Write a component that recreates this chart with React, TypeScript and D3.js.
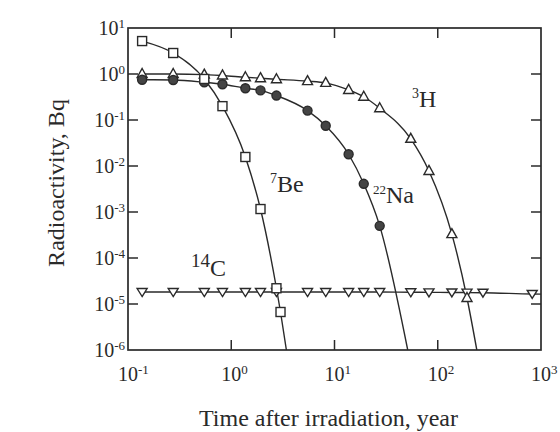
import React, { useEffect, useRef } from 'react';
import * as d3 from 'd3';

// sampling times (years)
const times = [0.137, 0.274, 0.548, 0.822, 1.37, 1.92, 2.74, 5.48, 8.22, 13.7, 19.2, 27.4, 54.8, 82.2, 137, 192, 274, 822];

const be7Times = [0.137, 0.274, 0.548, 0.822, 1.37, 1.92, 2.74, 3.0];
const be7Values = [5.2, 2.86, 0.78, 0.2, 0.0157, 1.16e-3, 2.2e-5, 6.7e-6];
const be7Tail = { t: 3.42, a: 1e-6 };

const na22Values = [0.75, 0.74, 0.66, 0.6, 0.49, 0.44, 0.34, 0.16, 0.075, 0.018, 4.1e-3, 5.0e-4];
const na22Tail = { t: 51.2, a: 1e-6 };

const h3Values = [1.0, 1.0, 0.97, 0.93, 0.85, 0.81, 0.77, 0.7, 0.64, 0.45, 0.32, 0.18, 0.039, 7.8e-3, 3.3e-4, 1.35e-5];
const h3Tail = { t: 239, a: 1e-6 };

const c14Values = [1.82e-5, 1.82e-5, 1.82e-5, 1.82e-5, 1.82e-5, 1.82e-5, 1.82e-5, 1.82e-5, 1.82e-5, 1.82e-5, 1.82e-5, 1.82e-5, 1.8e-5, 1.79e-5, 1.78e-5, 1.77e-5, 1.76e-5, 1.65e-5];
const c14Tail = { t: 1000, a: 1.64e-5 };

const xTickExps = [-1, 0, 1, 2, 3];
const yTickExps = [-6, -5, -4, -3, -2, -1, 0, 1];

const ink = '#2a2a2a';
const serif = '"Liberation Serif", "Times New Roman", serif';

function App() {
  const ref = useRef<SVGSVGElement>(null);

  useEffect(() => {
    const svg = d3.select(ref.current);
    svg.selectAll('*').remove();

    const margin = { top: 28, right: 19, bottom: 82, left: 128 };
    const width = 560, height = 432;
    const x0 = margin.left, x1 = width - margin.right;
    const y0 = margin.top, y1 = height - margin.bottom;

    const x = d3.scaleLog().domain([0.1, 1000]).range([x0, x1]);
    const y = d3.scaleLog().domain([1e-6, 10]).range([y1, y0]);

    svg.append('rect').attr('width', width).attr('height', height).attr('fill', '#fff');

    svg.append('defs').append('clipPath').attr('id', 'plot')
      .append('rect').attr('x', x0).attr('y', y0).attr('width', x1 - x0).attr('height', y1 - y0);

    const line = d3.line<{ t: number; a: number }>()
      .x(d => x(d.t))
      .y(d => y(d.a))
      .curve(d3.curveMonotoneX);

    const be7 = be7Times.map((t, i) => ({ t, a: be7Values[i] }));
    const na22 = na22Values.map((a, i) => ({ t: times[i], a }));
    const h3 = h3Values.map((a, i) => ({ t: times[i], a }));
    const c14 = c14Values.map((a, i) => ({ t: times[i], a }));

    const lines = svg.append('g').attr('clip-path', 'url(#plot)')
      .attr('fill', 'none').attr('stroke', ink).attr('stroke-width', 1.4);
    lines.append('path').attr('d', line([...be7, be7Tail]));
    lines.append('path').attr('d', line([...na22, na22Tail]));
    lines.append('path').attr('d', line([...h3, h3Tail]));
    lines.append('path').attr('d', line([...c14, c14Tail]));

    // markers
    const marks = svg.append('g').attr('stroke', ink).attr('stroke-width', 1.4);
    const triUp = 'M0,-5.5L5,3.5L-5,3.5Z';
    const triDown = 'M0,4.5L5,-3.5L-5,-3.5Z';

    marks.selectAll('.c14').data(c14).enter().append('path')
      .attr('d', triDown).attr('fill', '#fff')
      .attr('transform', d => `translate(${x(d.t)},${y(d.a)})`);

    marks.selectAll('.h3').data(h3).enter().append('path')
      .attr('d', triUp).attr('fill', '#fff')
      .attr('transform', d => `translate(${x(d.t)},${y(d.a)})`);

    marks.selectAll('.na22').data(na22).enter().append('circle')
      .attr('r', 4.5).attr('fill', '#444')
      .attr('cx', d => x(d.t)).attr('cy', d => y(d.a));

    marks.selectAll('.be7').data(be7).enter().append('rect')
      .attr('width', 9).attr('height', 9).attr('fill', '#fff')
      .attr('x', d => x(d.t) - 4.5).attr('y', d => y(d.a) - 4.5);

    // frame and ticks
    svg.append('rect').attr('x', x0).attr('y', y0).attr('width', x1 - x0).attr('height', y1 - y0)
      .attr('fill', 'none').attr('stroke', ink).attr('stroke-width', 1.7);

    const tk = svg.append('g').attr('stroke', ink).attr('stroke-width', 1.5);
    xTickExps.slice(1, -1).forEach(e => {
      const px = x(Math.pow(10, e));
      tk.append('line').attr('x1', px).attr('x2', px).attr('y1', y1).attr('y2', y1 - 10);
      tk.append('line').attr('x1', px).attr('x2', px).attr('y1', y0).attr('y2', y0 + 10);
    });
    yTickExps.slice(1, -1).forEach(e => {
      const py = y(Math.pow(10, e));
      tk.append('line').attr('x1', x0).attr('x2', x0 + 10).attr('y1', py).attr('y2', py);
      tk.append('line').attr('x1', x1).attr('x2', x1 - 10).attr('y1', py).attr('y2', py);
    });

    const txt = svg.append('g').attr('fill', ink).attr('font-family', serif);

    xTickExps.forEach(e => {
      const t = txt.append('text').attr('x', x(Math.pow(10, e)) - 10).attr('y', y1 + 31)
        .attr('font-size', 20);
      t.append('tspan').text('10');
      t.append('tspan').attr('dy', -7).attr('font-size', 13).text(e < 0 ? `-${-e}` : `${e}`);
    });

    yTickExps.forEach(e => {
      const t = txt.append('text').attr('x', x0 - 3).attr('y', y(Math.pow(10, e)) + 7)
        .attr('text-anchor', 'end').attr('font-size', 20);
      t.append('tspan').text('10');
      t.append('tspan').attr('dy', -7).attr('font-size', 13).text(e < 0 ? `-${-e}` : `${e}`);
    });

    txt.append('text').attr('x', (x0 + x1) / 2 - 6).attr('y', 426)
      .attr('text-anchor', 'middle').attr('font-size', 24)
      .text('Time after irradiation, year');

    txt.append('text').attr('transform', `translate(64,${(y0 + y1) / 2 - 6}) rotate(-90)`)
      .attr('text-anchor', 'middle').attr('font-size', 24)
      .text('Radioactivity, Bq');

    // species labels
    const label = (px: number, py: number, sup: string, name: string, supSize = 14) => {
      const t = txt.append('text').attr('x', px).attr('y', py).attr('font-size', 24);
      t.append('tspan').attr('dy', -9).attr('font-size', supSize).text(sup);
      t.append('tspan').attr('dy', 9).text(name);
    };
    label(412, 107, '3', 'H');
    label(270, 192, '7', 'Be');
    label(373, 203, '22', 'Na', 13);
    label(191, 276, '14', 'C', 19);
  }, []);

  return (
    <svg ref={ref} width={560} height={432}
      style={{ position: 'absolute', left: 0, top: 0 }} />
  );
}

export default App;
